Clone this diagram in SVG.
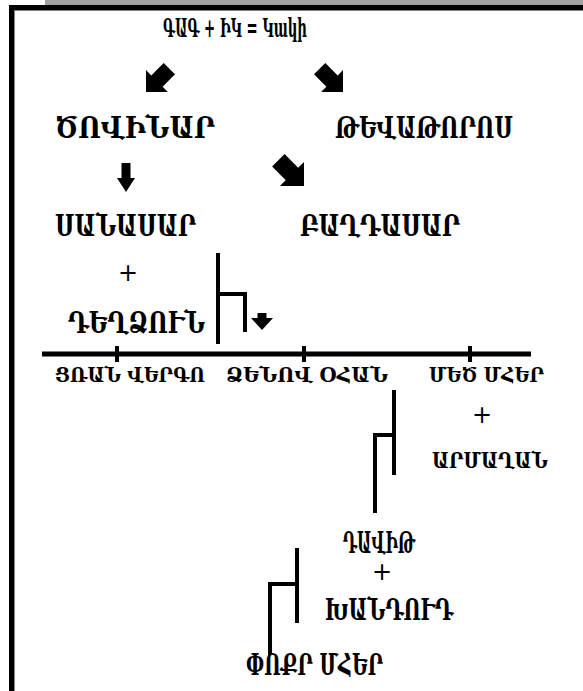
<svg xmlns="http://www.w3.org/2000/svg" width="583" height="691" viewBox="0 0 583 691">
<style>
.t{font-family:"DejaVu Serif","DejaVu Sans",serif;font-weight:bold;fill:#000}
.big{font-size:29px}
.mid{font-size:21px}
.ttl{font-size:26px}
.sm{font-size:23px}
.plus{font-family:"DejaVu Sans",sans-serif;font-size:24px;fill:#000}
.ln{stroke:#000;stroke-width:4;fill:none}
.arr{fill:#000}
</style>
<defs>
<path id="diag" d="M0,0 L-15.5,-15.5 L-8,-15.5 L-8,-33 L8,-33 L8,-15.5 L15.5,-15.5 Z"/>
</defs>
<rect width="583" height="691" fill="#fff"/>
<g id="frame">
<rect x="45" y="0" width="538" height="5" fill="#a0a0a0"/>
<rect x="9" y="5" width="574" height="5" fill="#000"/>
<rect x="9" y="5" width="5" height="686" fill="#000"/>
<rect x="14" y="10" width="569" height="1" fill="#808080"/>
<rect x="14" y="10" width="1" height="681" fill="#808080"/>
</g>
<g id="title"><text class="t ttl" x="163" y="37" textLength="144" lengthAdjust="spacingAndGlyphs">ԳԱԳ + ԻԿ = Կակի</text></g>
<g id="tsovinar"><text class="t big" x="55" y="138" textLength="160" lengthAdjust="spacingAndGlyphs">ԾՈՎԻՆԱՐ</text></g>
<g id="tevatoros"><text class="t big" x="335" y="138" textLength="178" lengthAdjust="spacingAndGlyphs">ԹԵՎԱԹՈՐՈՍ</text></g>
<g id="sanasar"><text class="t big" x="55" y="236" textLength="141" lengthAdjust="spacingAndGlyphs">ՍԱՆԱՍԱՐ</text></g>
<g id="baghdasar"><text class="t big" x="300" y="236" textLength="160" lengthAdjust="spacingAndGlyphs">ԲԱՂԴԱՍԱՐ</text></g>
<g id="deghdzoun">
<text class="plus" x="128" y="281" text-anchor="middle">+</text>
<text class="t big" x="68" y="333" textLength="137" lengthAdjust="spacingAndGlyphs">ԴԵՂՁՈՒՆ</text>
</g>
<g id="tsran"><text class="t mid" x="55" y="382" textLength="150" lengthAdjust="spacingAndGlyphs">ՑՌԱՆ ՎԵՐԳՈ</text></g>
<g id="dzenov"><text class="t mid" x="226" y="382" textLength="162" lengthAdjust="spacingAndGlyphs">ՁԵՆՈՎ ՕՀԱՆ</text></g>
<g id="mher"><text class="t mid" x="429" y="382" textLength="115" lengthAdjust="spacingAndGlyphs">ՄԵԾ ՄՀԵՐ</text></g>
<g id="armaghan">
<text class="plus" x="482" y="423" text-anchor="middle">+</text>
<text class="t sm" x="432" y="468" textLength="116" lengthAdjust="spacingAndGlyphs">ԱՐՄԱՂԱՆ</text>
</g>
<g id="davit">
<text class="t big" x="343" y="553" textLength="72" lengthAdjust="spacingAndGlyphs">ԴԱՎԻԹ</text>
<text class="plus" x="382" y="580" text-anchor="middle">+</text>
</g>
<g id="khandut"><text class="t big" x="325" y="620" textLength="128" lengthAdjust="spacingAndGlyphs">ԽԱՆԴՈՒԴ</text></g>
<g id="poqr"><text class="t big" x="246" y="675" textLength="137" lengthAdjust="spacingAndGlyphs">ՓՈՔՐ ՄՀԵՐ</text></g>
<g id="connectors">
<use href="#diag" class="arr" transform="translate(146,92) rotate(45)"/>
<use href="#diag" class="arr" transform="translate(343,92) rotate(-45)"/>
<path class="arr" d="M126,192 L117,178 L121.5,178 L121.5,163 L130.5,163 L130.5,178 L135,178 Z"/>
<use href="#diag" class="arr" transform="translate(304,186) rotate(-45) scale(1.1)"/>
<path class="arr" d="M262,330 L251,318 L257.5,318 L257.5,313 L266.5,313 L266.5,318 L273,318 Z"/>
<polyline class="ln" points="218,253 218,344"/>
<polyline class="ln" points="218,294 245,294 245,332"/>
<line x1="42" y1="354" x2="531" y2="354" stroke="#000" stroke-width="5"/>
<line x1="117" y1="346" x2="117" y2="362" stroke="#000" stroke-width="4"/>
<line x1="304" y1="346" x2="304" y2="362" stroke="#000" stroke-width="4"/>
<line x1="470" y1="346" x2="470" y2="362" stroke="#000" stroke-width="4"/>
<polyline class="ln" points="394,390 394,475"/>
<polyline class="ln" points="394,435 375,435 375,513"/>
<polyline class="ln" points="297,548 297,623"/>
<polyline class="ln" points="297,584 270,584 270,655"/>
</g>
</svg>
